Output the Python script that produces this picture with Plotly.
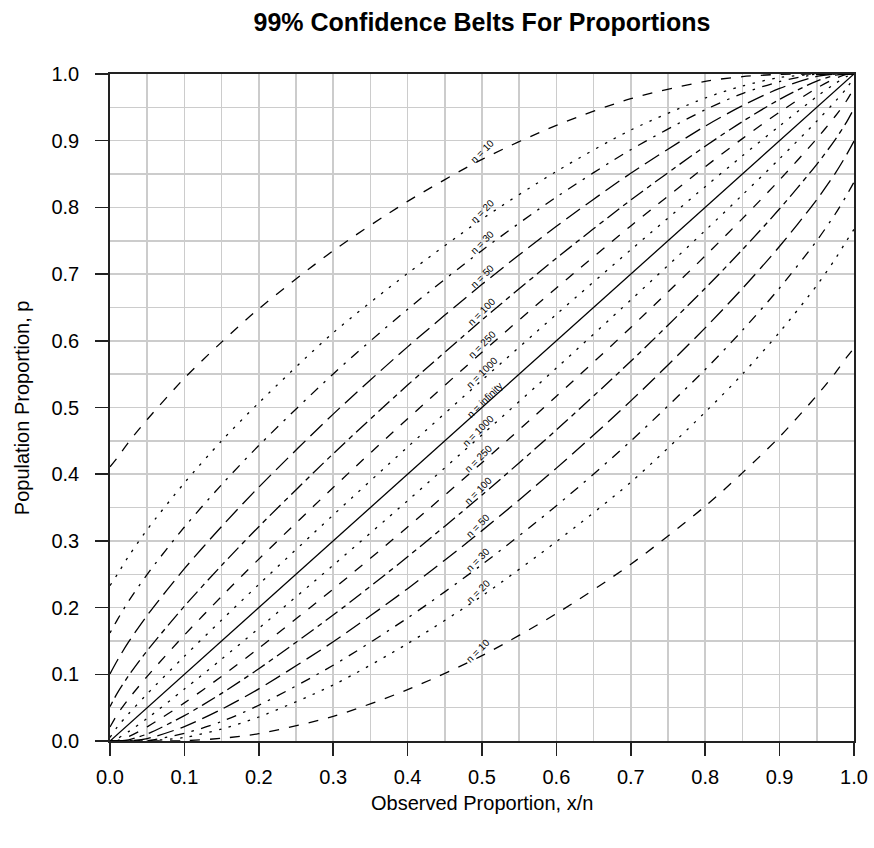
import plotly.graph_objects as go

# ---------------- data ----------------
x_obs = [0.0, 0.01, 0.025, 0.05, 0.1, 0.15, 0.2, 0.3, 0.4, 0.5,
         0.6, 0.7, 0.8, 0.85, 0.9, 0.95, 0.975, 0.99, 1.0]

sample_sizes = ["10", "20", "30", "50", "100", "250", "1000"]

upper_10 = [0.411, 0.425, 0.448, 0.482, 0.544, 0.598, 0.648, 0.735, 0.809, 0.872,
            0.923, 0.963, 0.989, 0.996, 0.9995, 1.0, 1.0, 1.0, 1.0]
lower_10 = [0.0, 0.0, 0.0, 0.0, 0.0005, 0.004, 0.011, 0.037, 0.077, 0.128,
            0.191, 0.265, 0.352, 0.402, 0.456, 0.518, 0.552, 0.575, 0.589]

upper_20 = [0.233, 0.250, 0.277, 0.317, 0.387, 0.450, 0.507, 0.612, 0.701, 0.7825,
            0.854, 0.916, 0.964, 0.982, 0.9947, 0.9997, 1.0, 1.0, 1.0]
lower_20 = [0.0, 0.0, 0.0, 0.0003, 0.0053, 0.018, 0.036, 0.084, 0.146, 0.2175,
            0.299, 0.388, 0.493, 0.550, 0.613, 0.683, 0.723, 0.750, 0.767]

upper_30 = [0.162, 0.182, 0.2095, 0.2498, 0.3208, 0.3843, 0.4430, 0.5503, 0.6473, 0.7355,
            0.8155, 0.8865, 0.9464, 0.9707, 0.9886, 0.9994, 1.0, 1.0, 1.0]
lower_30 = [0.0, 0.0, 0.0, 0.0006, 0.0114, 0.0293, 0.0536, 0.1135, 0.1845, 0.2645,
            0.3527, 0.4497, 0.5570, 0.6157, 0.6792, 0.7502, 0.7905, 0.818, 0.838]

upper_50 = [0.1006, 0.121, 0.1485, 0.1883, 0.2583, 0.3216, 0.3806, 0.4901, 0.5909, 0.6846,
            0.7716, 0.8512, 0.9218, 0.9524, 0.9784, 0.9964, 0.9999, 1.0, 1.0]
lower_50 = [0.0, 0.0, 0.0001, 0.0036, 0.0216, 0.0476, 0.0782, 0.1488, 0.2284, 0.3154,
            0.4091, 0.5099, 0.6194, 0.6784, 0.7417, 0.8117, 0.8515, 0.879, 0.8994]

upper_100 = [0.0516, 0.0721, 0.0979, 0.1354, 0.2021, 0.2633, 0.3213, 0.4307, 0.5336, 0.6312,
             0.7238, 0.8111, 0.8917, 0.9286, 0.9620, 0.9894, 0.9982, 0.99995, 1.0]
lower_100 = [0.0, 0.00005, 0.0018, 0.0106, 0.0380, 0.0714, 0.1083, 0.1889, 0.2762, 0.3688,
             0.4664, 0.5693, 0.6787, 0.7367, 0.7979, 0.8646, 0.9021, 0.9279, 0.9484]

upper_250 = [0.0210, 0.0401, 0.0630, 0.0969, 0.1588, 0.2168, 0.2727, 0.3800, 0.4831, 0.5828,
             0.6792, 0.7722, 0.8609, 0.9031, 0.9429, 0.9788, 0.9934, 0.9993, 1.0]
lower_250 = [0.0, 0.0007, 0.0066, 0.0212, 0.0571, 0.0969, 0.1391, 0.2278, 0.3208, 0.4172,
             0.5169, 0.6200, 0.7273, 0.7832, 0.8412, 0.9031, 0.9370, 0.9599, 0.9790]

upper_1000 = [0.0053, 0.0213, 0.0408, 0.0707, 0.1270, 0.1813, 0.2347, 0.3388, 0.4408, 0.5410,
              0.6397, 0.7364, 0.8311, 0.8773, 0.9222, 0.9661, 0.9859, 0.9962, 1.0]
lower_1000 = [0.0, 0.0038, 0.0141, 0.0339, 0.0778, 0.1227, 0.1689, 0.2636, 0.3603, 0.4590,
              0.5592, 0.6612, 0.7653, 0.8187, 0.8730, 0.9293, 0.9592, 0.9787, 0.9947]

infinity_x = [0.0, 1.0]
infinity_y = [0.0, 1.0]

tick_vals = [0.0, 0.1, 0.2, 0.3, 0.4, 0.5, 0.6, 0.7, 0.8, 0.9, 1.0]
tick_text = ["0.0", "0.1", "0.2", "0.3", "0.4", "0.5", "0.6", "0.7", "0.8", "0.9", "1.0"]

# ---------------- styling ----------------
FONT = "Liberation Sans, Arial, Helvetica, sans-serif"
uppers = [upper_10, upper_20, upper_30, upper_50, upper_100, upper_250, upper_1000]
lowers = [lower_10, lower_20, lower_30, lower_50, lower_100, lower_250, lower_1000]
dashes = ["10px,10px", "2.5px,7.5px", "2.5px,7.5px,10px,7.5px", "17px,7px",
          "5px,5px,15px,5px", "10px,10px", "2.5px,7.5px"]
LW = 1.3

fig = go.Figure()
for n, up, lo, dsh in zip(sample_sizes, uppers, lowers, dashes):
    for ys in (up, lo):
        fig.add_trace(go.Scatter(
            x=x_obs, y=ys, mode="lines", name="n = " + n,
            line=dict(color="black", width=LW, dash=dsh, shape="spline", smoothing=0.8),
            hoverinfo="skip", showlegend=False))
fig.add_trace(go.Scatter(
    x=infinity_x, y=infinity_y, mode="lines", name="n = infinity",
    line=dict(color="black", width=LW), hoverinfo="skip", showlegend=False))

# curve labels at x = 0.5
mid = x_obs.index(0.5)
annotations = []
for n, up, lo in zip(sample_sizes, uppers, lowers):
    annotations.append(dict(x=0.5, y=up[mid] + 0.012, text="n = " + n))
    annotations.append(dict(x=0.495, y=lo[mid] + 0.007, text="n = " + n))
annotations.append(dict(x=0.503, y=0.5 + 0.011, text="n = infinity"))
for a in annotations:
    a.update(xref="x", yref="y", showarrow=False, textangle=-45,
             xanchor="center", yanchor="middle",
             font=dict(family=FONT, size=10, color="black"))

# axis titles
annotations.append(dict(text="Observed Proportion, x/n", xref="paper", yref="paper",
                        x=0.5, y=-0.093, showarrow=False, xanchor="center", yanchor="middle",
                        font=dict(family=FONT, size=20, color="black")))
annotations.append(dict(text="Population Proportion, p", xref="paper", yref="paper",
                        x=-0.1187, y=0.5, showarrow=False, textangle=-90,
                        xanchor="center", yanchor="middle",
                        font=dict(family=FONT, size=20, color="black")))

grid_color = "#cccccc"
axis_common = dict(
    range=[0, 1], tickmode="array", tickvals=tick_vals, ticktext=tick_text,
    ticks="outside", ticklen=13, tickwidth=1.5, tickcolor="#222222",
    showline=True, linecolor="#222222", linewidth=1.8, mirror=True,
    showgrid=True, gridcolor=grid_color, gridwidth=1.5,
    minor=dict(tickmode="linear", tick0=0, dtick=0.05, showgrid=True,
               gridcolor=grid_color, gridwidth=1.5, ticks=""),
    zeroline=False, fixedrange=True, automargin=False,
    ticklabeloverflow="allow",
    tickfont=dict(family=FONT, size=20, color="black"),
)

W, H = 874, 848
fig.update_layout(
    width=W, height=H,
    margin=dict(l=110, r=20, t=74, b=107, pad=0),
    paper_bgcolor="white", plot_bgcolor="white",
    title=dict(text="<b>99% Confidence Belts For Proportions</b>",
               x=0.5, xref="paper", xanchor="center",
               y=1 - 22 / H, yref="container", yanchor="middle",
               font=dict(family=FONT, size=25, color="black")),
    xaxis=dict(axis_common, ticklabelstandoff=4),
    yaxis=dict(axis_common, ticklabelstandoff=12),
    annotations=annotations,
    showlegend=False,
)

# remove the browser's default 8px page margin so the figure fills the window exactly
fig.write_html("out.html",
               config={"displayModeBar": False, "staticPlot": True},
               post_script="document.body.style.margin='0px';"
                           "document.body.style.overflow='hidden';")
